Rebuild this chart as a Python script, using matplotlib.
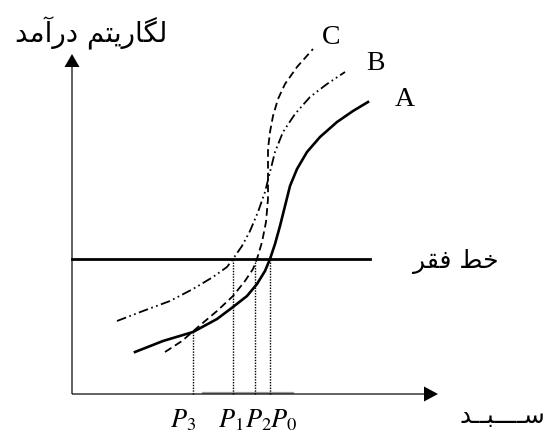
import matplotlib
matplotlib.use('Agg')
import matplotlib.pyplot as plt

plt.rcParams['lines.scale_dashes'] = False
plt.rcParams['mathtext.fontset'] = 'stix'

# curves (origin at the axes corner)
a_x = [63, 91, 121, 145, 161, 175, 185, 193, 198, 203, 208, 213, 218, 225, 235, 248, 265, 281, 296]
a_y = [42, 53, 62, 75, 87, 98, 110, 123, 135, 150, 168, 188, 208, 225, 242, 257, 272, 283, 292]
b_x = [45, 71, 98, 121, 141, 155, 161, 170, 178, 186, 193, 198, 203, 211, 223, 238, 255, 273]
b_y = [73, 83, 93, 105, 117, 127, 135, 148, 163, 182, 202, 222, 242, 262, 280, 297, 310, 322]
c_x = [93, 110, 126, 145, 161, 173, 181, 185, 190, 194, 196, 196, 196, 198, 201, 206, 213, 225, 241]
c_y = [42, 53, 67, 83, 98, 113, 125, 135, 152, 172, 195, 222, 245, 262, 278, 295, 310, 327, 345]

poverty = 135
p_names = ['$P_3$', '$P_1$', '$P_2$', '$P_0$']
p_x = [121, 161, 183, 198]
p_top = [62, 135, 135, 135]
p_left = [98, 146, 173, 198]

# persian labels, written as shaped presentation forms in visual order
y_label = '\ufeaa\ufee3\ufe81\ufead\ufea9 \ufee2\ufe98\ufbfe\ufead\ufe8e\ufb95\ufedf'   # لگاریتم درآمد
pov_label = '\ufeae\ufed8\ufed3 \ufec2\ufea7'   # خط فقر
x_label = '\ufeaa\u0640\u0640\ufe92\u0640\u0640\u0640\u0640\ufeb3'   # ســـبـد

fig = plt.figure(figsize=(5.53, 4.39), dpi=100)
ax = fig.add_axes([0, 0, 1, 1])
ax.set_xlim(-72, 481)
ax.set_ylim(-44, 395)
ax.axis('off')

# axes with arrows
ax.arrow(0, 0, 0, 340, width=1.2, head_width=15, head_length=13,
         length_includes_head=True, color='black', lw=0)
ax.arrow(0, 0, 366, 0, width=1.2, head_width=15, head_length=14,
         length_includes_head=True, color='black', lw=0)
ax.plot([131, 221], [1, 1], color='#9a9a9a', lw=1.6, zorder=0)

# poverty line
ax.plot([0, 298], [poverty, poverty], color='black', lw=2.0)

ax.plot(a_x, a_y, color='black', lw=1.9, solid_joinstyle='round')
ax.plot(b_x, b_y, color='black', lw=1.3, linestyle=(0, (7, 2.5, 1.2, 2.5, 1.2, 2.5)))
ax.plot(c_x, c_y, color='black', lw=1.3, linestyle=(0, (5.5, 3)))

for name, x, top, left in zip(p_names, p_x, p_top, p_left):
    ax.plot([x, x], [0, top], color='black', lw=1.0, linestyle=(0, (1, 1)))
    ax.text(left, -32, name, fontsize=19, ha='left', va='baseline')

ax.text(333, 295, 'A', fontsize=20, family='Liberation Serif', ha='center', va='center')
ax.text(303, 331, 'B', fontsize=20, family='Liberation Serif', ha='center', va='center')
ax.text(259, 358, 'C', fontsize=20, family='Liberation Serif', ha='center', va='center')

ax.text(19, 362, y_label, fontsize=20, family='DejaVu Sans', ha='center', va='center')
ax.text(384, 133, pov_label, fontsize=18, family='DejaVu Sans', ha='center', va='center')
ax.text(430, -21, x_label, fontsize=18, family='DejaVu Sans', ha='center', va='center')

plt.savefig('out.png', dpi=100)
